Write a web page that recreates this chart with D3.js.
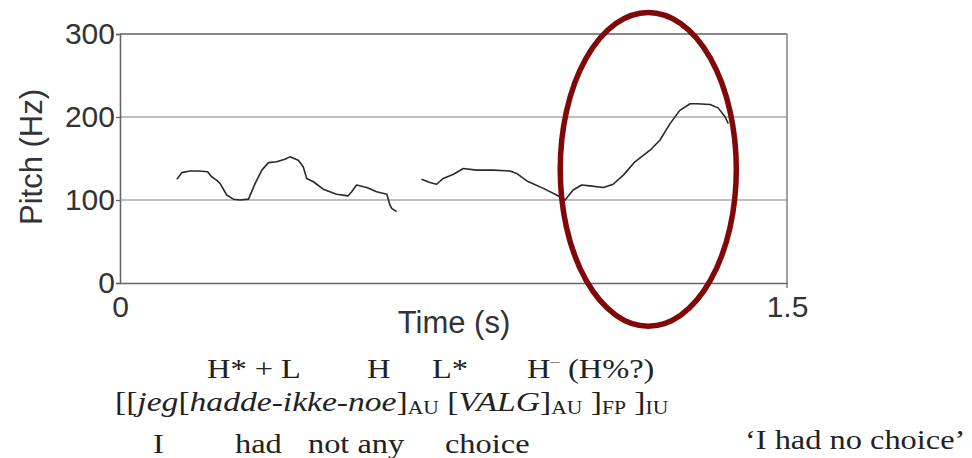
<!DOCTYPE html>
<html>
<head>
<meta charset="utf-8">
<script src="https://cdn.jsdelivr.net/npm/d3@7"></script>
<style>
  body { margin: 0; background: #fff; }
  .axis text { font-family: "Liberation Sans", Arial, sans-serif; fill: #333; }
  .gloss { font-family: "Liberation Serif", "Times New Roman", serif; fill: #222; }
</style>
</head>
<body>
<svg id="chart"></svg>
<script>
// pitch track (time in s, pitch in Hz)
const seg1Time = [0.128, 0.139, 0.157, 0.176, 0.197, 0.206, 0.217, 0.225, 0.240, 0.255, 0.270, 0.289,
  0.304, 0.319, 0.334, 0.352, 0.371, 0.382, 0.401, 0.412, 0.420, 0.435, 0.457, 0.487, 0.513, 0.521,
  0.532, 0.555, 0.577, 0.600, 0.607, 0.611, 0.622];
const seg1Pitch = [125, 133, 135, 135, 134, 128, 124, 120, 106, 101, 100, 101,
  120, 136, 145, 146, 149, 152, 148, 140, 126, 122, 113, 107, 105, 110,
  118, 115, 110, 107, 94, 90, 86];
const seg2Time = [0.678, 0.697, 0.712, 0.727, 0.750, 0.772, 0.802, 0.840, 0.877, 0.892, 0.915, 0.952,
  0.982, 1.001, 1.019, 1.038, 1.057, 1.087, 1.109, 1.132, 1.158, 1.192, 1.214, 1.237, 1.259, 1.282,
  1.297, 1.327, 1.345, 1.361, 1.368];
const seg2Pitch = [125, 121, 119, 126, 131, 138, 136, 136, 135, 132, 123, 114,
  106, 100, 112, 118, 117, 115, 119, 130, 146, 160, 172, 192, 208, 216,
  216, 215, 211, 200, 192];

const yTicks = [0, 100, 200, 300];
const gridTicks = [100, 200];
const xTicks = [0, 1.5];
const xTickLabels = ['0', '1.5'];

// circled region: centre time, centre pitch, half width (s), half height (Hz)
const highlight = [1.188, 137, 0.198, 189];

// annotation lines under the chart
const toneTokens = [['H* + L', 207], ['H', 367], ['L*', 432], ['H', 527], ['(H%?)', 568]];
const glossTokens = [['I', 153], ['had', 235], ['not any', 308], ['choice', 445]];
const translation = '\u2018I had no choice\u2019';
const bracketParts = [
  ['[[', 'n'], ['jeg', 'i'], ['[', 'n'], ['hadde-ikke-noe', 'i'], [']', 'n'], ['AU', 's'],
  [' [', 'n'], ['VALG', 'i'], [']', 'n'], ['AU', 's'], [' ]', 'n'], ['FP', 's'], [' ]', 'n'], ['IU', 's']
];

const width = 972, height = 458;
const margin = {top: 34, right: 185, bottom: 175, left: 120};
const innerW = width - margin.left - margin.right;
const innerH = height - margin.top - margin.bottom;

const svg = d3.select('#chart').attr('width', width).attr('height', height);
const chart = svg.append('g').attr('transform', `translate(${margin.left},${margin.top})`);

const x = d3.scaleLinear().domain([0, 1.5]).range([0, innerW]);
const y = d3.scaleLinear().domain([0, 300]).range([innerH, 0]);

// grid lines
chart.selectAll('.grid')
  .data(gridTicks)
  .join('line')
  .attr('class', 'grid')
  .attr('x1', 0).attr('x2', innerW)
  .attr('y1', d => y(d)).attr('y2', d => y(d))
  .attr('stroke', '#a8a8a8').attr('stroke-width', 1.3);

// frame top and right
chart.append('line')
  .attr('x1', 0).attr('x2', innerW).attr('y1', y(300)).attr('y2', y(300))
  .attr('stroke', '#888').attr('stroke-width', 2);
chart.append('line')
  .attr('x1', x(1.5)).attr('x2', x(1.5)).attr('y1', y(300)).attr('y2', innerH + 5)
  .attr('stroke', '#888').attr('stroke-width', 1.6);

// axes
const yAxisG = chart.append('g').attr('class', 'axis')
  .call(d3.axisLeft(y).tickValues(yTicks).tickSize(4).tickPadding(1).tickFormat(d3.format('d')));
const xAxisG = chart.append('g').attr('class', 'axis')
  .attr('transform', `translate(0,${innerH})`)
  .call(d3.axisBottom(x).tickValues(xTicks).tickSize(0).tickPadding(13)
    .tickFormat((d, i) => xTickLabels[i]));

[yAxisG, xAxisG].forEach(g => {
  g.select('.domain').attr('stroke', '#666').attr('stroke-width', 1.6);
  g.selectAll('.tick line').attr('stroke', '#666').attr('stroke-width', 1.3);
  g.selectAll('.tick text').attr('font-size', 30);
});

// axis titles
svg.append('text').attr('class', 'axis')
  .attr('x', 454).attr('y', 333)
  .attr('text-anchor', 'middle')
  .attr('font-family', '"Liberation Sans", Arial, sans-serif')
  .attr('font-size', 31).attr('fill', '#333')
  .text('Time (s)');
svg.append('text')
  .attr('transform', 'translate(42,157) rotate(-90)')
  .attr('text-anchor', 'middle')
  .attr('font-family', '"Liberation Sans", Arial, sans-serif')
  .attr('font-size', 31).attr('fill', '#333')
  .text('Pitch (Hz)');

// pitch track
const line = d3.line().x(d => x(d[0])).y(d => y(d[1])).curve(d3.curveLinear);
const segments = [d3.zip(seg1Time, seg1Pitch), d3.zip(seg2Time, seg2Pitch)];
chart.selectAll('.track')
  .data(segments)
  .join('path')
  .attr('class', 'track')
  .attr('d', line)
  .attr('fill', 'none')
  .attr('stroke', '#2a2a2a')
  .attr('stroke-width', 1.6)
  .attr('stroke-linejoin', 'round');

// highlight ellipse
chart.append('ellipse')
  .attr('cx', x(highlight[0]))
  .attr('cy', y(highlight[1]))
  .attr('rx', x(highlight[2]) - x(0))
  .attr('ry', y(0) - y(highlight[3]))
  .attr('fill', 'none')
  .attr('stroke', '#800808')
  .attr('stroke-width', 5.5);

// annotation text, set in a slightly widened serif
const sx = 1.2;
const notes = svg.append('g').attr('transform', `scale(${sx},1)`);

toneTokens.forEach(([t, px], i) => {
  const txt = notes.append('text').attr('class', 'gloss')
    .attr('x', px / sx).attr('y', 378).attr('font-size', 27);
  txt.append('tspan').text(t);
  if (i === 3) {
    txt.append('tspan').attr('font-size', 15).attr('dy', -12).text('\u2013');
    txt.append('tspan').attr('dy', 12).text('');
  }
});

const brackets = notes.append('text').attr('class', 'gloss')
  .attr('x', 115 / sx).attr('y', 411).attr('font-size', 28);
bracketParts.forEach(([t, kind], i) => {
  const ts = brackets.append('tspan').text(t);
  if (kind === 'i') ts.attr('font-style', 'italic');
  if (kind === 's') ts.attr('font-size', 18).attr('dy', 3);
  else if (i > 0 && bracketParts[i - 1][1] === 's') ts.attr('dy', -3);
});

glossTokens.forEach(([t, px]) => {
  notes.append('text').attr('class', 'gloss')
    .attr('x', px / sx).attr('y', 453).attr('font-size', 27).text(t);
});
notes.append('text').attr('class', 'gloss')
  .attr('x', 745 / sx).attr('y', 449).attr('font-size', 27).text(translation);
</script>
</body>
</html>
